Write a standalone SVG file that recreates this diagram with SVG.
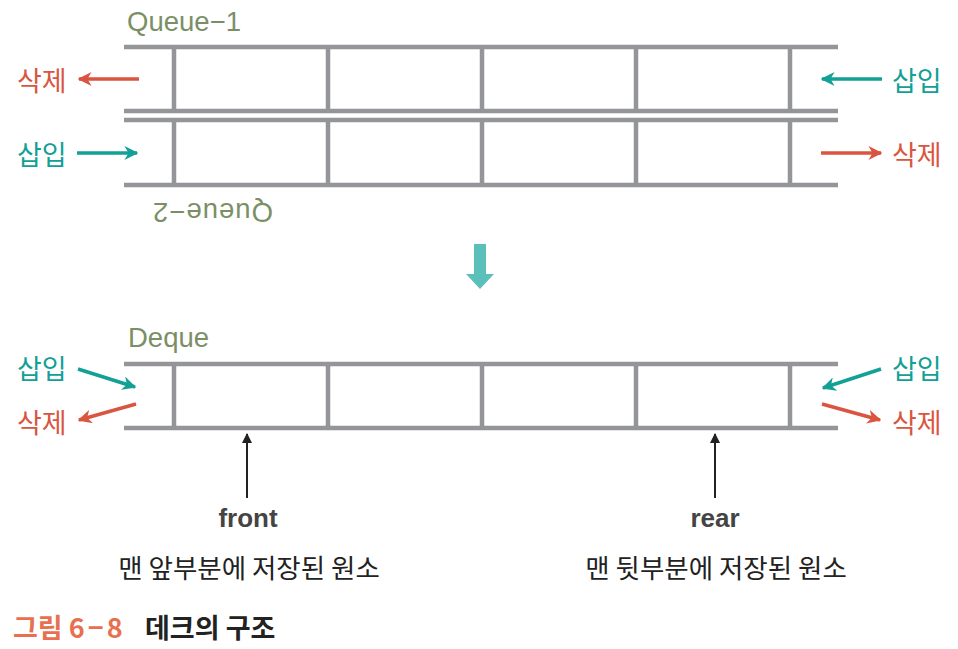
<svg xmlns="http://www.w3.org/2000/svg" width="958" height="649" viewBox="0 0 958 649">
<style>
.rail{stroke:#939598;stroke-width:4.5;fill:none}
.red{stroke:#d9553f;stroke-width:3.5;fill:none}
.teal{stroke:#13a096;stroke-width:3.5;fill:none}
.blk{stroke:#222;stroke-width:2;fill:none}
.lbl{font-family:"Noto Sans CJK KR","Noto Sans",sans-serif;font-size:27px}
.lr{fill:#d9553f}.lt{fill:#13a096}
.qn{font-family:"Liberation Sans",Arial,sans-serif;font-size:27.5px;fill:#7b8f66}
.sub{font-family:"Noto Sans CJK KR",sans-serif;font-size:26.5px;fill:#222}
.ptr{font-family:"Liberation Sans",Arial,sans-serif;font-size:26px;font-weight:bold;fill:#444}
</style>
<defs>
<marker id="mr" viewBox="0 0 10 10" refX="9" refY="5" markerWidth="4" markerHeight="4" orient="auto"><path d="M0,0 L10,5 L0,10 L3,5 z" fill="#d9553f"/></marker>
<marker id="mt" viewBox="0 0 10 10" refX="9" refY="5" markerWidth="4" markerHeight="4" orient="auto"><path d="M0,0 L10,5 L0,10 L3,5 z" fill="#13a096"/></marker>
<marker id="mb" viewBox="0 0 10 10" refX="9" refY="5" markerWidth="5" markerHeight="6" orient="auto"><path d="M0,0 L10,5 L0,10 z" fill="#222"/></marker>
</defs>
<g id="queue1">
<text class="qn" x="127" y="31">Queue−1</text>
<path class="rail" d="M124,47H838M124,111H838M174,47V111M328,47V111M482,47V111M636,47V111M790,47V111"/>
</g>
<g id="queue2">
<path class="rail" d="M124,120H838M124,185H838M174,120V185M328,120V185M482,120V185M636,120V185M790,120V185"/>
<text class="qn" x="0" y="0" letter-spacing="1" transform="translate(273,203) rotate(180)">Queue−2</text>
</g>
<g id="deque">
<text class="qn" x="128" y="347">Deque</text>
<path class="rail" d="M124,364H838M124,428H838M174,364V428M328,364V428M482,364V428M636,364V428M790,364V428"/>
</g>
<g id="labels">
<text class="lbl lr" x="17" y="91">삭제</text>
<text class="lbl lt" x="892" y="91">삽입</text>
<text class="lbl lt" x="17" y="165">삽입</text>
<text class="lbl lr" x="892" y="165">삭제</text>
<text class="lbl lt" x="17" y="379">삽입</text>
<text class="lbl lr" x="17" y="433">삭제</text>
<text class="lbl lt" x="892" y="379">삽입</text>
<text class="lbl lr" x="892" y="433">삭제</text>
</g>
<g id="connectors">
<line class="red" x1="139" y1="79" x2="79" y2="79" marker-end="url(#mr)"/>
<line class="teal" x1="77" y1="153" x2="137" y2="153" marker-end="url(#mt)"/>
<line class="teal" x1="882" y1="79" x2="822" y2="79" marker-end="url(#mt)"/>
<line class="red" x1="821" y1="153" x2="881" y2="153" marker-end="url(#mr)"/>
<line class="teal" x1="78" y1="369" x2="135" y2="387" marker-end="url(#mt)"/>
<line class="red" x1="136" y1="404" x2="79" y2="420" marker-end="url(#mr)"/>
<line class="teal" x1="881" y1="369" x2="823" y2="388" marker-end="url(#mt)"/>
<line class="red" x1="822" y1="404" x2="880" y2="420" marker-end="url(#mr)"/>
<line class="blk" x1="247" y1="498" x2="247" y2="434" marker-end="url(#mb)"/>
<line class="blk" x1="715" y1="498" x2="715" y2="434" marker-end="url(#mb)"/>
<path d="M474,244H486V274H494L480,289L466,274H474Z" fill="#5bbfba"/>
</g>
<g id="pointers">
<text class="ptr" x="248" y="527" text-anchor="middle">front</text>
<text class="ptr" x="715" y="527" text-anchor="middle">rear</text>
<text class="sub" x="249" y="578" text-anchor="middle">맨 앞부분에 저장된 원소</text>
<text class="sub" x="716" y="578" text-anchor="middle">맨 뒷부분에 저장된 원소</text>
</g>
<g id="caption">
<text x="13" y="638" font-family="Noto Sans CJK KR,sans-serif" font-size="27" font-weight="bold" fill="#e8704f">그림 6<tspan dx="3">−</tspan><tspan dx="3">8</tspan></text>
<text x="145" y="638" font-family="Noto Sans CJK KR,sans-serif" font-size="27" font-weight="bold" fill="#222">데크의 구조</text>
</g>
</svg>
